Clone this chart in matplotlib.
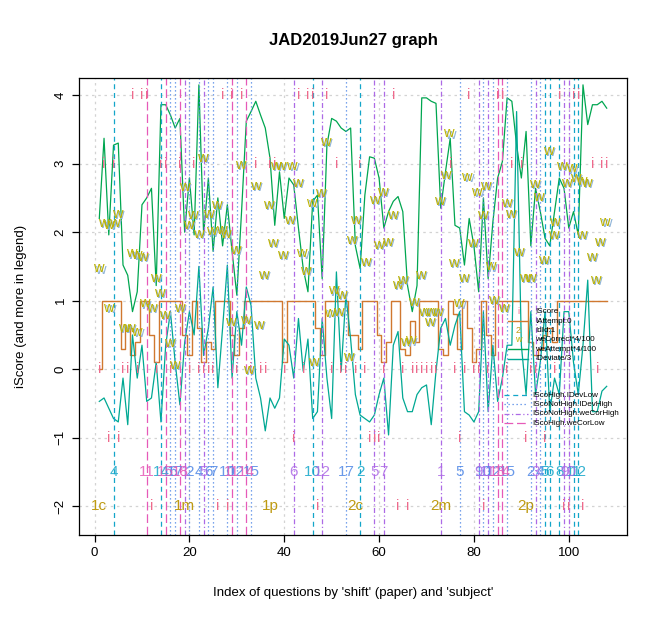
import numpy as np
import matplotlib
matplotlib.use("Agg")
import matplotlib.pyplot as plt
from matplotlib.transforms import offset_copy

plt.rcParams['font.family'] = ['Liberation Sans', 'DejaVu Sans']

N = float('nan')

# iScore per question (index 1..108), NaN where nothing shows
iscore = [0, 3, -1, 3, -1, 0, 0, 4, 0, 4, 4, -2, 0, 3, 3, 0, N, 3, N, 0,
          3, 0, 0, 0, 0, -2, 4, -2, 4, 0, 4, N, 0, 3, 0, 0, 3, 3, N, 0,
          N, -1, 4, 0, 4, 4, -2, N, 4, 0, 3, 0, 0, N, 0, 3, 0, -1, -1, -1,
          0, N, 4, -2, 0, -2, 0, 0, 0, 0, 0, 0, N, N, 3, 0, -1, 0, 4, 0,
          0, -2, 0, N, 4, 4, 0, 3, N, 3, -1, 0, 0, N, -1, N, 0, 4, -2, -2,
          4, 4, -2, N, 3, 0, 3, 3]

# attempt flag (smoothed 0/1)
attempt = [0, 1, 1, 1, 1, 0.3, 0.6, 0.2, 0.4, 1, 1, 0.5, 0.1, 1, 1, 1, 1, 1, 0.5, 0.2,
           1, 0.6, 0.1, 0.4, 0.3, 1, 1, 1, 0.5, 0.2, 0.6, 1, 1, 1, 1, 1, 1, 1, 1, 0.1,
           1, 1, 1, 1, 1, 1, 0.6, 0.2, 1, 1, 1, 1, 1, 0.5, 0.5, 0.3, 1, 1, 1, 0.5,
           0.1, 0.4, 1, 1, 0.3, 0.2, 0.7, 0.4, 1, 1, 1, 1, 0.3, 0.2, 1, 0.8, 0.3, 1, 0.6, 0.1,
           0.3, 1, 0.5, 0.2, 1, 1, 1, 1, 1, 1, 1, 0.4, 0.2, 0.3, 0.5, 0.6, 0.4, 1, 1, 1,
           1, 1, 1, 1, 1, 1, 1, 1]

# weAttempt*4/100
we_attempt = [2.2, 3.37, 1.96, 3.27, 3.3, 1.52, 1.37, 0.84, 1.13, 2.4, 2.5, 2.64, 1.22, 3.86, 3.86,
              3.71, 3.52, 3.66, 2.0, 2.79, 1.96, 4.15, 1.96, 2.79, 1.72, 2.5, 1.8, 2.4, 1.72, 1.08,
              2.3, 3.62, 3.76, 3.91, 3.71, 3.52, 3.08, 2.1, 2.88, 2.2, 2.79, 2.69, 2.06, 1.47, 1.13,
              2.45, 2.54, 1.32, 3.27, 3.66, 3.62, 3.52, 3.47, 3.52, 1.8, 1.47, 2.54, 3.1, 3.08, 2.79,
              2.06, 2.3, 2.45, 2.52, 2.3, 1.22, 0.84, 1.22, 3.96, 3.96, 3.91, 3.88, 2.35, 2.88, 3.37,
              2.1, 2.06, 1.52, 2.2, 1.8, 1.13, 2.5, 1.32, 2.15, 2.79, 3.03, 3.96, 3.91, 3.27, 2.79,
              3.47, 1.8, 2.64, 2.3, 1.91, 1.8, 2.3, 2.79, 2.64, 2.06, 2.3, 1.96, 4.15, 3.57, 3.86,
              3.86, 3.91, 3.81]

# IDeviate/3
deviate = [-0.47, -0.42, -0.57, -0.72, -0.77, -0.13, -0.81, 0.5, -0.13, 0.35, -0.47, -0.42, 0.1,
           -0.77, 0.35, 0.84, 0.1, -0.52, 0.39, 0.84, 0.5, 1.5, 0.2, 0.6, 1.2, -0.27, 0.6, 1.52,
           -0.13, 0.84, 0.35, 1.2, 0.93, -0.13, -0.42, -0.9, -0.42, -0.57, -0.42, 0.44, 0.35, -0.13,
           0.74, -0.03, 0.44, -0.72, -0.62, 0.74, -0.13, -0.72, 1.42, -0.03, 1.08, 0.44, -0.37,
           -0.67, -0.72, -0.77, -0.67, -0.37, -0.13, -0.96, 0.35, 0.55, -0.42, -0.62, -0.62, -0.37,
           -0.27, -0.23, -0.81, -0.03, 0.6, 0.74, 0.35, 0.64, 0.84, -0.62, -0.67, -0.77, -0.62, 0.84,
           -0.62, 0.35, -0.47, -0.13, 0.35, 0.35, 3.76, 0.35, -0.37, 0.84, -0.37, 0.1, 0.84, -0.62,
           -0.13, -0.37, 0.84, 0.84, 0.1, -0.37, 0.35, 1.3, -0.62, -0.62, -0.32, -0.25]

# weCorrect*4/100 "w" marks
w_x = [0.9, 1.9, 3.0, 4.1, 4.7, 3.0, 6.0, 7.4, 8.9, 7.7, 8.9, 10.0, 10.5, 11.9, 12.8, 13.7, 14.7,
       15.8, 16.8, 17.8, 19.0, 19.7, 20.7, 21.8, 22.8, 23.9, 24.6, 25.6, 26.7,
       30.7, 33.8, 36.6, 38.1, 39.2, 41.6, 42.7, 27.6, 29.7, 41.0, 37.4, 39.5, 35.6, 43.7, 44.4,
       45.8, 47.6, 48.7, 28.6, 31.8, 34.6, 32.5, 46.1, 50.3, 52.1, 49.6, 51.4, 53.5, 54.9, 54.2,
       57.1, 58.9, 60.6, 59.9, 61.7, 62.7, 63.8, 64.8, 68.7, 67.3, 65.5, 66.6, 69.4, 70.8, 72.2,
       70.5, 74.7, 74.0, 72.7, 75.7, 77.8, 76.8, 78.5, 80.6, 82.4, 81.7, 79.6, 83.4, 84.1,
       86.2, 86.9, 87.6, 89.3, 90.7, 91.8, 92.8, 93.5, 94.6, 95.6, 97.0, 96.7, 98.5, 99.5, 100.6,
       101.3, 102.7, 103.7, 102.7, 104.8, 106.5, 107.6, 105.5]
w_y = [1.47, 2.13, 2.11, 2.13, 2.26, 0.90, 0.60, 0.60, 0.55, 1.69, 1.67, 1.64, 0.96, 0.89, 1.33,
       1.11, 0.79, 0.38, 0.06, 0.90, 2.66, 2.11, 2.25, 1.98, 3.08, 2.26, 2.01, 2.40, 2.03,
       2.98, 2.67, 2.40, 2.96, 2.96, 2.97, 2.72, 1.98, 1.74, 2.18, 1.84, 1.67, 1.38, 1.69, 1.43,
       2.42, 2.57, 3.32, 0.69, 0.72, 0.64, -0.01, 0.11, 1.15, 1.08, 0.82, 0.84, 0.18, 2.18, 1.89,
       1.57, 2.47, 2.59, 1.81, 1.86, 2.25, 1.23, 1.30, 1.37, 0.98, 0.40, 0.42, 0.84, 0.84, 0.84,
       0.69, 3.44, 2.83, 2.45, 1.55, 1.33, 0.96, 2.81, 2.59, 2.67, 2.25, 1.84, 1.50, 1.01,
       0.89, 2.42, 2.27, 1.71, 1.33, 1.33, 2.71, 2.52, 1.60, 3.18, 2.15, 1.96, 2.96, 2.72, 2.93,
       2.79, 2.74, 2.72, 1.96, 1.64, 1.86, 2.15, 1.30]

# flagged questions
sco_high_dev_low = [4, 14, 46, 56, 95, 96, 98, 101, 102]
sco_nothigh_dev_high = [16, 17, 20, 22, 24, 25, 28, 30, 33, 53, 77, 82, 84, 87, 92, 94]
sco_nothigh_wecor_high = [19, 23, 42, 48, 59, 61, 73, 81, 83, 93, 99, 100]
sco_high_wecor_low = [11, 15, 18, 29, 32, 85, 86]

sections = ['1c', '1m', '1p', '2c', '2m', '2p']
section_start = [1, 19, 37, 55, 73, 91]
per_section = 18

idx = np.arange(1, len(iscore) + 1)

c_i = '#EE6A8C'
c_orange = '#D0782F'
c_green = '#00A650'
c_teal = '#00A893'
c_w = '#BDB200'
c_wshadow = '#8FB4D8'
c_gold = '#BE9A12'

flag_styles = [
    ('IScoHigh.IDevLow', sco_high_dev_low, '#13A6C9', (0, (4, 3))),
    ('IScoNotHigh.IDevHigh', sco_nothigh_dev_high, '#4F87E6', (0, (1, 2.2))),
    ('IScoNotHigh.weCorHigh', sco_nothigh_wecor_high, '#AD6AE6', (0, (4, 2, 1, 2))),
    ('IScoHigh.weCorLow', sco_high_wecor_low, '#E65AB8', (0, (7, 3))),
]

fig = plt.figure(figsize=(6.67, 6.21), dpi=100)
ax = fig.add_axes([79 / 667, 86 / 621, 548 / 667, 457 / 621])

ax.set_xlim(-3.28, 112.28)
ax.set_ylim(-2.42, 4.25)
ax.set_xticks([0, 20, 40, 60, 80, 100])
ax.set_yticks([-2, -1, 0, 1, 2, 3, 4])
ax.grid(True, color='#D3D3D3', linestyle=(0, (2, 3)), lw=0.9)
ax.set_axisbelow(True)

# series
ax.plot(idx, attempt, color=c_orange, lw=1.0, drawstyle='steps-mid')
ax.plot(idx, we_attempt, color=c_green, lw=0.9)
ax.plot(idx, deviate, color=c_teal, lw=0.9)

for x, v in zip(idx, iscore):
    if not np.isnan(v):
        ax.text(x, v, 'i', color=c_i, fontsize=10.5, ha='center', va='center')

shadow = offset_copy(ax.transData, fig=fig, x=0.8, y=-0.8, units='points')
for x, y in zip(w_x, w_y):
    ax.text(x, y, 'w', color=c_wshadow, fontsize=10.5, ha='center', va='center', transform=shadow)
    ax.text(x, y, 'w', color=c_w, fontsize=10.5, ha='center', va='center')

# flagged questions: vertical lines and their number within the section
for name, xs, col, ls in flag_styles:
    for x in xs:
        ax.axvline(x, color=col, lw=0.9, linestyle=ls)
        ax.text(x, -1.5, str((x - 1) % per_section + 1), color=col, fontsize=11,
                ha='center', va='center', alpha=0.85)

for lab, s in zip(sections, section_start):
    ax.text(s, -2.0, lab, color=c_gold, fontsize=11, ha='center', va='center')

# legend 1
tr = ax.transAxes
rows1 = [0.488, 0.468, 0.448, 0.428, 0.407, 0.386]
names1 = ['IScore', 'IAttempt:0', 'IdId:1', 'weCorrect*4/100', 'weAttempt*4/100', 'IDeviate/3']
for yy, nm in zip(rows1, names1):
    ax.text(0.832, yy, nm, transform=tr, fontsize=5.8, ha='left', va='center')
ax.text(0.801, rows1[0], 'i', transform=tr, color=c_i, fontsize=6.5, ha='center', va='center')
ax.plot([0.783, 0.819], [rows1[1]] * 2, transform=tr, color=c_orange, lw=1.0)
ax.text(0.801, rows1[2], '2', transform=tr, color=c_gold, fontsize=6.5, ha='center', va='center')
ax.text(0.801, rows1[3], 'w', transform=tr, color=c_w, fontsize=6.5, ha='center', va='center')
ax.plot([0.783, 0.819], [rows1[4]] * 2, transform=tr, color=c_green, lw=1.0)
ax.plot([0.783, 0.819], [rows1[5]] * 2, transform=tr, color=c_teal, lw=1.0)

# legend 2
rows2 = [0.306, 0.286, 0.265, 0.244]
for yy, (name, xs, col, ls) in zip(rows2, flag_styles):
    ax.plot([0.775, 0.819], [yy, yy], transform=tr, color=col, lw=0.9, linestyle=ls)
    ax.text(0.828, yy, name, transform=tr, fontsize=5.8, ha='left', va='center')

ax.set_title('JAD2019Jun27 graph', fontsize=12, fontweight='bold', pad=24)
ax.set_xlabel("Index of questions by 'shift' (paper) and 'subject'", fontsize=9.5, labelpad=20)
ax.set_ylabel('iScore (and more in legend)', fontsize=9.5, labelpad=20)
ax.tick_params(direction='out', length=5, width=0.9, labelsize=9.5, pad=4)
for lab in ax.get_yticklabels():
    lab.set_rotation(90)
    lab.set_va('center')
for sp in ax.spines.values():
    sp.set_linewidth(0.9)

fig.savefig('out.png', dpi=100)
